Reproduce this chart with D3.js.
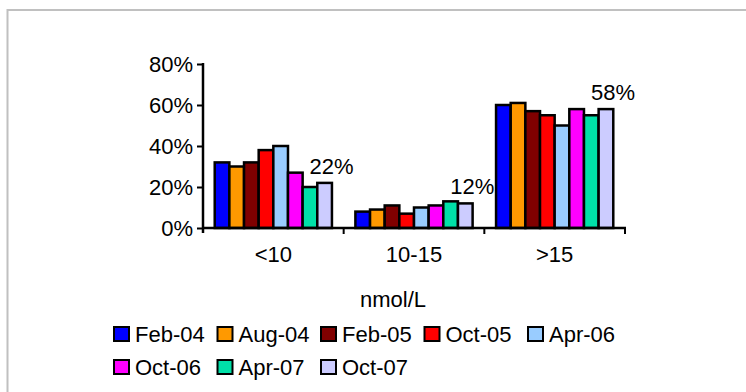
<!DOCTYPE html>
<html><head><meta charset="utf-8">
<script src="https://cdn.jsdelivr.net/npm/d3@7"></script>
<style>
html,body{margin:0;padding:0;background:#fff;}
svg{display:block;font-family:Arial,"Liberation Sans",sans-serif;}
</style></head>
<body><svg id="c" width="746" height="392"></svg>
<script>
const categories = ["<10", "10-15", ">15"];
const seriesNames = ["Feb-04","Aug-04","Feb-05","Oct-05","Apr-06","Oct-06","Apr-07","Oct-07"];
const seriesColors = ["#0000ff","#ff9900","#800000","#ff0000","#99ccff","#ff00ff","#00e0a8","#ccccff"];
const valFeb04 = [32, 8, 60];
const valAug04 = [30, 9, 61];
const valFeb05 = [32, 11, 57];
const valOct05 = [38, 7, 55];
const valApr06 = [40, 10, 50];
const valOct06 = [27, 11, 58];
const valApr07 = [20, 13, 55];
const valOct07 = [22, 12, 58];
const yTicks = [0, 20, 40, 60, 80];
const labeledSeries = "Oct-07";
const xTitle = "nmol/L";

(function(){
const seriesValues = [valFeb04,valAug04,valFeb05,valOct05,valApr06,valOct06,valApr07,valOct07];
const svg = d3.select("#c");
const FS = 22;

svg.append("rect").attr("x",7.5).attr("y",10).attr("width",760).attr("height",400)
  .attr("fill","#fff").attr("stroke","#c0c0c0").attr("stroke-width",2);

const pLeft=203, pRight=625, pTop=64, pBottom=228;
const x0 = d3.scaleBand().domain(categories).range([pLeft,pRight]).padding(0);
const x1 = d3.scaleBand().domain(seriesNames).range([0,x0.bandwidth()]).paddingInner(0).paddingOuter(0.8);
const y = d3.scaleLinear().domain([0,80]).range([pBottom,pTop]);

const g = svg.append("g");
seriesNames.forEach((s,si)=>{
  categories.forEach((c,ci)=>{
    const v = seriesValues[si][ci];
    g.append("rect")
      .attr("x", x0(c)+x1(s)).attr("y", y(v))
      .attr("width", x1.bandwidth()).attr("height", y(0)-y(v))
      .attr("fill", seriesColors[si]).attr("stroke","#000").attr("stroke-width",2.5);
  });
});

const li = seriesNames.indexOf(labeledSeries);
categories.forEach((c,ci)=>{
  const v = seriesValues[li][ci];
  svg.append("text").attr("x", x0(c)+x1(labeledSeries)+x1.bandwidth()/2+7)
    .attr("y", y(v)-9).attr("text-anchor","middle").attr("font-size",FS).attr("fill","#000")
    .text(v+"%");
});

const yAxis = d3.axisLeft(y).tickValues(yTicks).tickFormat(d=>d+"%").tickSize(6).tickSizeOuter(0);
const ya = svg.append("g").attr("transform",`translate(${pLeft},0)`).call(yAxis);
ya.selectAll("text").attr("font-size",FS).attr("font-family","Arial, 'Liberation Sans', sans-serif").attr("fill","#000").attr("dx",-1).attr("dy","0.35em");
ya.selectAll("line").attr("stroke","#000").attr("stroke-width",2);
ya.select(".domain").attr("stroke","#000").attr("stroke-width",2.5).attr("d",`M0,${pTop-1}V${pBottom+5}`);

const xAxis = d3.axisBottom(x0).tickSize(0);
const xa = svg.append("g").attr("transform",`translate(0,${pBottom})`).call(xAxis);
xa.select(".domain").attr("stroke","#000").attr("stroke-width",2.5).attr("d",`M${pLeft},0H${pRight+1}`);
xa.selectAll("text").attr("font-size",FS).attr("font-family","Arial, 'Liberation Sans', sans-serif").attr("fill","#000").attr("dy","0").attr("y",34);
const bounds = categories.map(c=>x0(c)+x0.bandwidth());
svg.append("g").selectAll("line").data(bounds).join("line")
  .attr("x1",d=>d).attr("x2",d=>d).attr("y1",pBottom).attr("y2",pBottom+6)
  .attr("stroke","#000").attr("stroke-width",2);

svg.append("text").attr("x",393).attr("y",307).attr("text-anchor","middle")
  .attr("font-size",FS).attr("fill","#000").text(xTitle);

const colW = 103.5, legX = 114, rowY = [334, 367];
seriesNames.forEach((s,i)=>{
  const r = Math.floor(i/5), c = i%5;
  const gx = legX + c*colW, gy = rowY[r];
  svg.append("rect").attr("x",gx).attr("y",gy-7).attr("width",15).attr("height",14)
    .attr("fill",seriesColors[i]).attr("stroke","#000").attr("stroke-width",2);
  svg.append("text").attr("x",gx+21).attr("y",gy+8).attr("font-size",FS).attr("fill","#000").text(s);
});
})();
</script></body></html>
